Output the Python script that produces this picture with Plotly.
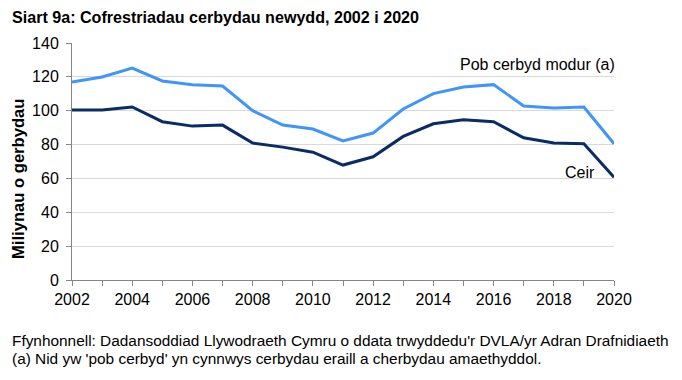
import plotly.graph_objects as go

years = list(range(2002, 2021))
all_vehicles = [117.0, 119.9, 125.2, 117.6, 115.4, 114.6, 100.0, 91.5, 89.2, 82.2,
                86.8, 101.0, 110.1, 114.0, 115.4, 102.8, 101.6, 102.2, 80.5]
cars = [100.4, 100.4, 102.2, 93.5, 90.9, 91.5, 80.9, 78.5, 75.5, 67.9,
        72.8, 84.8, 92.3, 94.7, 93.5, 84.0, 80.9, 80.5, 60.7]
x_tick_labels = [str(y) if y % 2 == 0 else "" for y in years]
y_ticks = [0, 20, 40, 60, 80, 100, 120, 140]

title = "Siart 9a: Cofrestriadau cerbydau newydd, 2002 i 2020"
y_title = "Miliynau o gerbydau"
label_all = "Pob cerbyd modur (a)"
label_cars = "Ceir"
source = "Ffynhonnell: Dadansoddiad Llywodraeth Cymru o ddata trwyddedu'r DVLA/yr Adran Drafnidiaeth"
note = "(a) Nid yw 'pob cerbyd' yn cynnwys cerbydau eraill a cherbydau amaethyddol."

FONT = "Liberation Sans, Arial, sans-serif"
LIGHT = "#4096F8"
DARK = "#082C63"

# figure is placed 8px in from the page corner (browser body margin)
W, H = 674, 372
L, R, T, B = 64, 68, 35, 100
PW, PH = W - L - R, H - T - B


def px_x(x):
    return (x - 8 - L) / PW


def px_y(y):
    return (H - B - (y - 8)) / PH


fig = go.Figure()
fig.add_trace(go.Scatter(x=years, y=all_vehicles, mode="lines",
                         line=dict(color=LIGHT, width=3), name=label_all))
fig.add_trace(go.Scatter(x=years, y=cars, mode="lines",
                         line=dict(color=DARK, width=3), name=label_cars))

fig.update_layout(
    width=W, height=H,
    margin=dict(l=L, r=R, t=T, b=B),
    paper_bgcolor="white", plot_bgcolor="white",
    showlegend=False,
    font=dict(family=FONT, size=16, color="#000000"),
)
fig.update_xaxes(range=[2002, 2020], tickvals=years, ticktext=x_tick_labels,
                 ticks="outside", ticklen=5, tickcolor="#868686",
                 showline=True, linecolor="#868686", linewidth=1,
                 showgrid=False, zeroline=False,
                 tickfont=dict(size=16, family=FONT))
fig.update_yaxes(range=[0, 140], tickvals=y_ticks,
                 ticks="outside", ticklen=5, tickcolor="#868686",
                 showline=True, linecolor="#868686", linewidth=1,
                 showgrid=True, gridcolor="#D9D9D9", gridwidth=1, zeroline=False,
                 ticklabelstandoff=4,
                 tickfont=dict(size=16, family=FONT))

fig.add_annotation(x=px_x(10), y=px_y(17), xref="paper", yref="paper",
                   text="<b>" + title + "</b>", showarrow=False,
                   xanchor="left", yanchor="middle", font=dict(size=16.1, family=FONT))
fig.add_annotation(x=px_x(18), y=px_y(179), xref="paper", yref="paper",
                   text="<b>" + y_title + "</b>", showarrow=False, textangle=-90,
                   xanchor="center", yanchor="middle", font=dict(size=16.6, family=FONT))
fig.add_annotation(x=px_x(617), y=px_y(64), xref="paper", yref="paper", text=label_all,
                   showarrow=False, xanchor="right", yanchor="middle",
                   font=dict(size=16, family=FONT))
fig.add_annotation(x=px_x(597), y=px_y(172), xref="paper", yref="paper", text=label_cars,
                   showarrow=False, xanchor="right", yanchor="middle",
                   font=dict(size=16, family=FONT))
fig.add_annotation(x=px_x(10), y=px_y(340), xref="paper", yref="paper", text=source,
                   showarrow=False, xanchor="left", yanchor="middle",
                   font=dict(size=15.4, family=FONT))
fig.add_annotation(x=px_x(10), y=px_y(358), xref="paper", yref="paper", text=note,
                   showarrow=False, xanchor="left", yanchor="middle",
                   font=dict(size=15.4, family=FONT))

fig.write_html("out.html")
